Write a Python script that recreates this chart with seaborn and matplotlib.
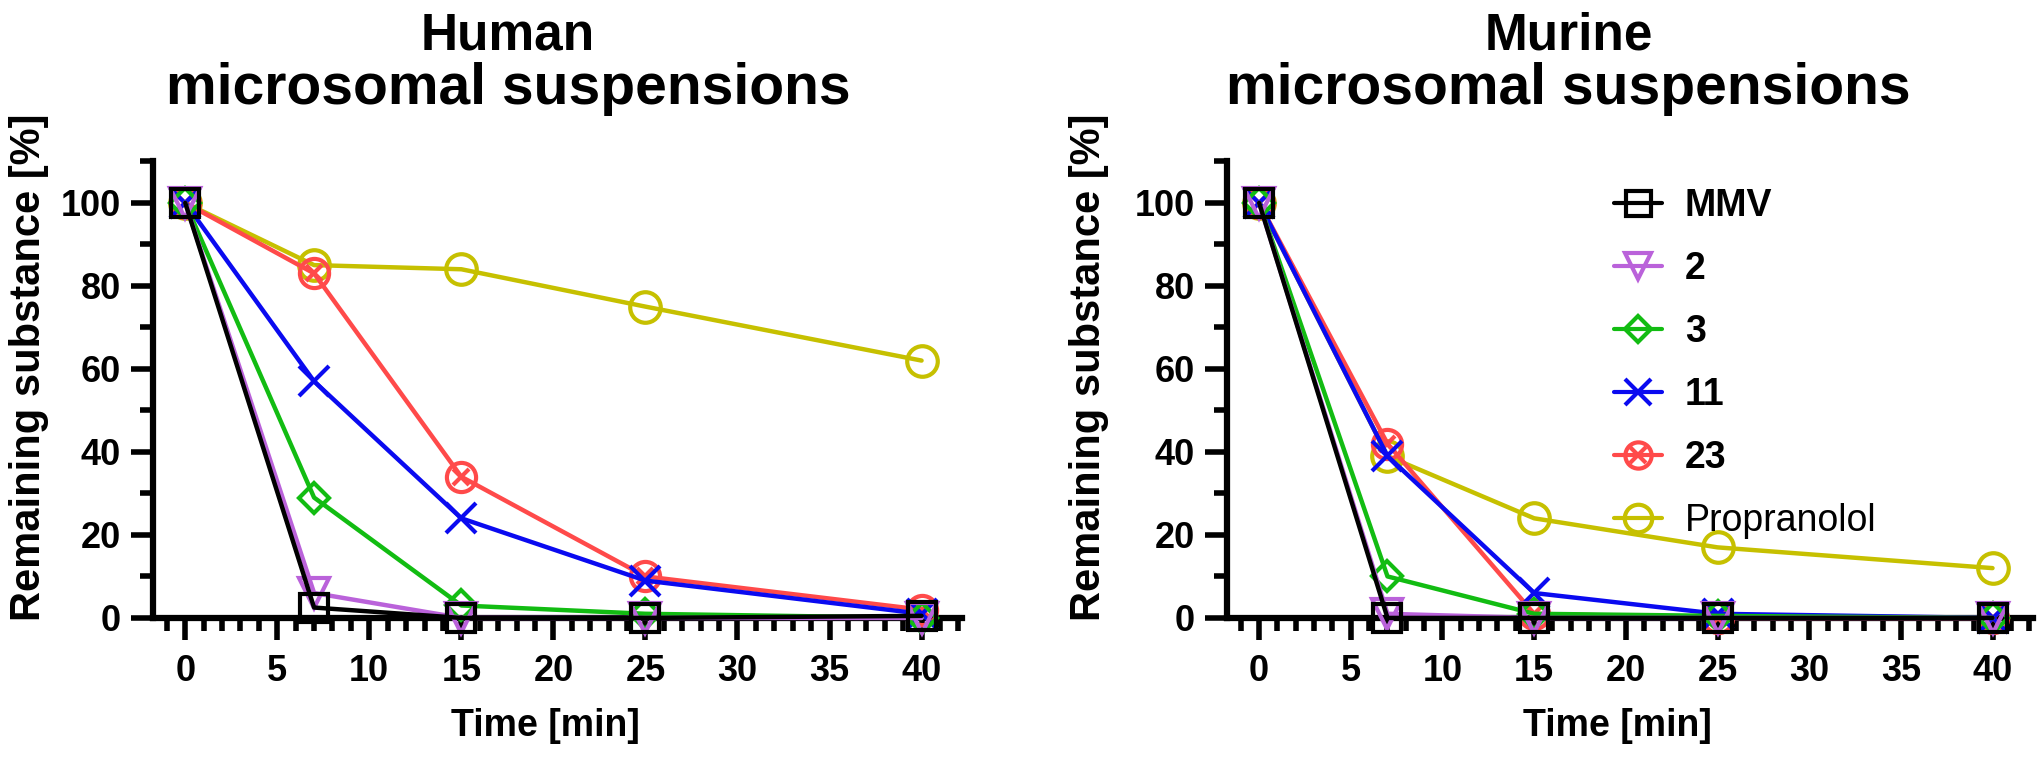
import numpy as np
import pandas as pd
import matplotlib
matplotlib.use('Agg')
import matplotlib.pyplot as plt
import seaborn as sns
from matplotlib.lines import Line2D
from matplotlib.ticker import MultipleLocator
from matplotlib.font_manager import FontProperties

sns.set_style('ticks')
plt.rcParams['font.family'] = ['Liberation Sans', 'DejaVu Sans']
plt.rcParams['text.color'] = 'black'
plt.rcParams['axes.labelcolor'] = 'black'
plt.rcParams['xtick.color'] = 'black'
plt.rcParams['ytick.color'] = 'black'
plt.rcParams['axes.edgecolor'] = 'black'

# ------------------------------------------------------------
# data
# ------------------------------------------------------------
time_min = [0, 7, 15, 25, 40]
compounds = ['MMV', '2', '3', '11', '23', 'Propranolol']

human = {
    'MMV':         [100, 2.5, 0, 0, 0.5],
    '2':           [100, 6, 0, 0, 0],
    '3':           [100, 29, 3, 1, 0],
    '11':          [100, 57, 24, 9, 1],
    '23':          [100, 83, 34, 10, 2],
    'Propranolol': [100, 85, 84, 75, 62],
}
murine = {
    'MMV':         [100, 0, 0, 0, 0],
    '2':           [100, 1, 0, 0, 0],
    '3':           [100, 10, 1, 0.5, 0],
    '11':          [100, 39, 6, 1, 0],
    '23':          [100, 42, 1, 0, 0],
    'Propranolol': [100, 39, 24, 17, 12],
}

colors = {'MMV': '#000000', '2': '#BA62DA', '3': '#12BC12', '11': '#0A0AF0',
          '23': '#FF4A4A', 'Propranolol': '#C6C000'}
markers = {'MMV': 's', '2': 'v', '3': 'D', '11': 'x', '23': 'o', 'Propranolol': 'o'}
msizes = {'MMV': 20, '2': 21, '3': 15, '11': 21, '23': 21, 'Propranolol': 22}

fig = plt.figure(figsize=(20.4, 7.61), dpi=100)
ax1 = fig.add_axes([0.075, 0.188, 0.3966, 0.600])
ax2 = fig.add_axes([0.6015, 0.188, 0.395, 0.600])

tick_font = FontProperties(family=['Liberation Sans'], weight='bold', size=26)


def draw_panel(ax, data, species, title_x, ylab_x):
    df = pd.DataFrame(data)
    df['Time'] = time_min
    for name in compounds[::-1]:
        c = colors[name]
        sns.lineplot(data=df, x='Time', y=name, ax=ax, color=c, lw=3.2,
                     marker=markers[name], markersize=msizes[name],
                     markerfacecolor='none', markeredgecolor=c, markeredgewidth=3,
                     clip_on=False, zorder=3)
        if name == '23':
            sns.lineplot(data=df, x='Time', y=name, ax=ax, color=c, lw=0,
                         marker='x', markersize=12, markeredgecolor=c,
                         markeredgewidth=3, clip_on=False, zorder=3)

    ax.set_xlim(-1.75, 42.2)
    ax.set_ylim(0, 110)
    ax.xaxis.set_major_locator(MultipleLocator(5))
    ax.xaxis.set_minor_locator(MultipleLocator(1))
    ax.yaxis.set_major_locator(MultipleLocator(20))
    ax.yaxis.set_minor_locator(MultipleLocator(10))
    for s in ['top', 'right']:
        ax.spines[s].set_visible(False)
    for s in ['left', 'bottom']:
        ax.spines[s].set_linewidth(4.5)
    ax.tick_params(which='major', length=16, width=4)
    ax.tick_params(which='minor', length=9.5, width=4)
    ax.tick_params(axis='x', which='major', pad=10)
    ax.tick_params(axis='y', which='major', pad=7)
    for lab in ax.get_xticklabels() + ax.get_yticklabels():
        lab.set_fontproperties(tick_font)

    ax.set_xlabel('Time [min]', fontsize=27, fontweight='bold')
    ax.xaxis.set_label_coords(0.485, -0.197)
    ax.set_ylabel('')
    fig.text(ylab_x, 0.518, 'Remaining substance [%]', rotation=90, ha='center',
             va='center', fontsize=30, fontweight='bold')
    fig.text(title_x, 0.9356, species, ha='center', va='baseline', fontsize=37,
             fontweight='bold')
    fig.text(title_x, 0.8633, 'microsomal suspensions', ha='center', va='baseline',
             fontsize=41, fontweight='bold')


draw_panel(ax1, human, 'Human', 0.249, 0.0142)
draw_panel(ax2, murine, 'Murine', 0.769, 0.534)

# legend with line through each marker
handles = []
for name in compounds:
    c = colors[name]
    h = Line2D([], [], color=c, lw=3, marker=markers[name], markersize=msizes[name] * 0.9,
               markerfacecolor='none', markeredgecolor=c, markeredgewidth=3)
    if name == '23':
        h = (h, Line2D([], [], color=c, lw=0, marker='x', markersize=11,
                       markeredgecolor=c, markeredgewidth=3))
    handles.append(h)

leg = fig.legend(handles, compounds, loc='upper left', bbox_to_anchor=(0.791, 0.753),
                 bbox_transform=fig.transFigure, frameon=False, fontsize=27,
                 handlelength=1.3, handletextpad=0.6, labelspacing=0.72,
                 borderpad=0, borderaxespad=0)
for t in leg.get_texts():
    if t.get_text() != 'Propranolol':
        t.set_fontweight('bold')

fig.savefig('out.png', dpi=100)
